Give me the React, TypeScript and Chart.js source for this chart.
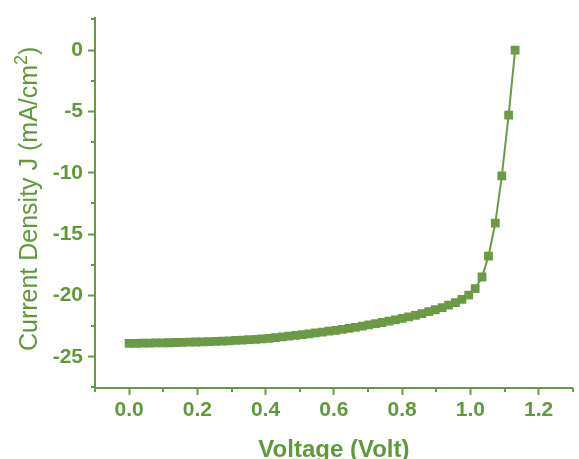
import React, { useEffect, useRef } from "react";
import { Chart, registerables } from "chart.js";

Chart.register(...registerables);

const voltage = [
  0.0, 0.02, 0.039, 0.059, 0.078, 0.098, 0.117, 0.137, 0.156, 0.176,
  0.195, 0.215, 0.234, 0.254, 0.273, 0.293, 0.312, 0.332, 0.351, 0.371,
  0.39, 0.41, 0.429, 0.449, 0.468, 0.488, 0.507, 0.527, 0.546, 0.566,
  0.585, 0.605, 0.624, 0.644, 0.663, 0.683, 0.702, 0.722, 0.741, 0.761,
  0.78, 0.8, 0.819, 0.839, 0.858, 0.878, 0.897, 0.917, 0.936, 0.956,
  0.975, 0.995, 1.014, 1.034, 1.053, 1.073, 1.092, 1.112, 1.131,
];

const currentDensity = [
  -23.92, -23.91, -23.9, -23.89, -23.88, -23.87, -23.86, -23.84, -23.83, -23.81,
  -23.8, -23.78, -23.76, -23.74, -23.72, -23.7, -23.67, -23.64, -23.61, -23.58,
  -23.55, -23.5, -23.44, -23.38, -23.32, -23.26, -23.19, -23.13, -23.06, -22.99,
  -22.92, -22.85, -22.77, -22.69, -22.6, -22.51, -22.41, -22.31, -22.21, -22.1,
  -21.99, -21.87, -21.75, -21.62, -21.48, -21.33, -21.17, -20.99, -20.8, -20.58,
  -20.32, -19.98, -19.45, -18.5, -16.8, -14.1, -10.25, -5.3, 0.0,
];

const xTickValues = [0, 0.2, 0.4, 0.6, 0.8, 1.0, 1.2];
const xMinorTickValues = [-0.1, 0.1, 0.3, 0.5, 0.7, 0.9, 1.1, 1.3];
const yTickValues = [-25, -20, -15, -10, -5, 0];
const yMinorTickValues = [-27.5, -22.5, -17.5, -12.5, -7.5, -2.5, 2.5];

const xTitle = "Voltage (Volt)";
const yTitleMain = "Current Density J (mA/cm";
const yTitleSup = "2";
const yTitleEnd = ")";

const GREEN = "#6a9a44";
const TEXT_GREEN = "#5f9a38";
const FONT = "'Liberation Sans', Arial, sans-serif";

const W = 579;
const H = 459;

const minorTicksPlugin = {
  id: "minorTicks",
  afterDraw(chart: any) {
    const { ctx, chartArea } = chart;
    const xs = chart.scales.x;
    const ys = chart.scales.y;
    ctx.save();
    ctx.strokeStyle = GREEN;
    ctx.lineWidth = 2;
    ctx.beginPath();
    xMinorTickValues.forEach((v) => {
      const px = Math.round(xs.getPixelForValue(v));
      ctx.moveTo(px, chartArea.bottom);
      ctx.lineTo(px, chartArea.bottom + 4);
    });
    yMinorTickValues.forEach((v) => {
      const py = Math.round(ys.getPixelForValue(v));
      ctx.moveTo(chartArea.left, py);
      ctx.lineTo(chartArea.left - 4, py);
    });
    ctx.stroke();
    ctx.restore();
  },
};

// Y axis title with a real superscript "2"
const yTitlePlugin = {
  id: "yTitleSup",
  afterDraw(chart: any) {
    const { ctx, chartArea } = chart;
    const mainFont = `25px ${FONT}`;
    const supFont = `18px ${FONT}`;
    ctx.save();
    ctx.fillStyle = TEXT_GREEN;
    ctx.font = mainFont;
    const w1 = ctx.measureText(yTitleMain).width;
    const w3 = ctx.measureText(yTitleEnd).width;
    ctx.font = supFont;
    const w2 = ctx.measureText(yTitleSup).width;
    const total = w1 + w2 + w3;
    const cy = (chartArea.top + chartArea.bottom) / 2 - 4;
    const baselineX = 37;
    ctx.translate(baselineX, cy);
    ctx.rotate(-Math.PI / 2);
    ctx.textBaseline = "alphabetic";
    ctx.textAlign = "left";
    let x = -total / 2;
    ctx.font = mainFont;
    ctx.fillText(yTitleMain, x, 0);
    x += w1;
    ctx.font = supFont;
    ctx.fillText(yTitleSup, x, -10);
    x += w2;
    ctx.font = mainFont;
    ctx.fillText(yTitleEnd, x, 0);
    ctx.restore();
  },
};

export default function App() {
  const canvasRef = useRef<HTMLCanvasElement | null>(null);

  useEffect(() => {
    const canvas = canvasRef.current;
    if (!canvas) return;
    const points = voltage.map((v, i) => ({ x: v, y: currentDensity[i] }));
    const chart = new Chart(canvas, {
      type: "scatter",
      data: {
        datasets: [
          {
            data: points,
            showLine: true,
            borderColor: GREEN,
            borderWidth: 2,
            backgroundColor: GREEN,
            pointBackgroundColor: GREEN,
            pointBorderColor: GREEN,
            pointBorderWidth: 0,
            pointStyle: "rect",
            pointRadius: 6.2,
            tension: 0,
          },
        ],
      },
      options: {
        animation: false,
        responsive: false,
        maintainAspectRatio: false,
        layout: { padding: { top: 15, right: 6, left: 0, bottom: 0 } },
        plugins: {
          legend: { display: false },
          tooltip: { enabled: false },
        },
        scales: {
          x: {
            type: "linear",
            position: "bottom",
            min: -0.1,
            max: 1.3,
            afterBuildTicks: (scale: any) => {
              scale.ticks = xTickValues.map((v) => ({ value: v }));
            },
            afterFit: (scale: any) => {
              scale.height = 71;
            },
            grid: {
              drawOnChartArea: false,
              drawTicks: true,
              tickLength: 7,
              tickWidth: 2,
              tickColor: GREEN,
              color: GREEN,
            },
            border: { display: true, color: GREEN, width: 2 },
            ticks: {
              color: TEXT_GREEN,
              font: { family: FONT, size: 21, weight: "bold" },
              padding: 3,
              maxRotation: 0,
              autoSkip: false,
              callback: (v: any) => Number(v).toFixed(1),
            },
            title: {
              display: true,
              text: xTitle,
              color: TEXT_GREEN,
              font: { family: FONT, size: 24, weight: "bold" },
              padding: { top: 0, bottom: -6 },
            },
          },
          y: {
            type: "linear",
            position: "left",
            min: -27.55,
            max: 2.65,
            afterBuildTicks: (scale: any) => {
              scale.ticks = yTickValues.map((v) => ({ value: v }));
            },
            afterFit: (scale: any) => {
              scale.width = 95;
            },
            grid: {
              drawOnChartArea: false,
              drawTicks: true,
              tickLength: 7,
              tickWidth: 2,
              tickColor: GREEN,
              color: GREEN,
            },
            border: { display: true, color: GREEN, width: 2 },
            ticks: {
              color: TEXT_GREEN,
              font: { family: FONT, size: 21, weight: "bold" },
              padding: 5,
              autoSkip: false,
              callback: (v: any) => String(v),
            },
            title: { display: false },
          },
        },
      },
      plugins: [minorTicksPlugin, yTitlePlugin],
    });
    return () => chart.destroy();
  }, []);

  return (
    <div
      style={{
        position: "fixed",
        left: 0,
        top: 0,
        width: W,
        height: H,
        overflow: "hidden",
        background: "#ffffff",
      }}
    >
      <canvas ref={canvasRef} width={W} height={H} style={{ width: W, height: H, display: "block" }} />
    </div>
  );
}
